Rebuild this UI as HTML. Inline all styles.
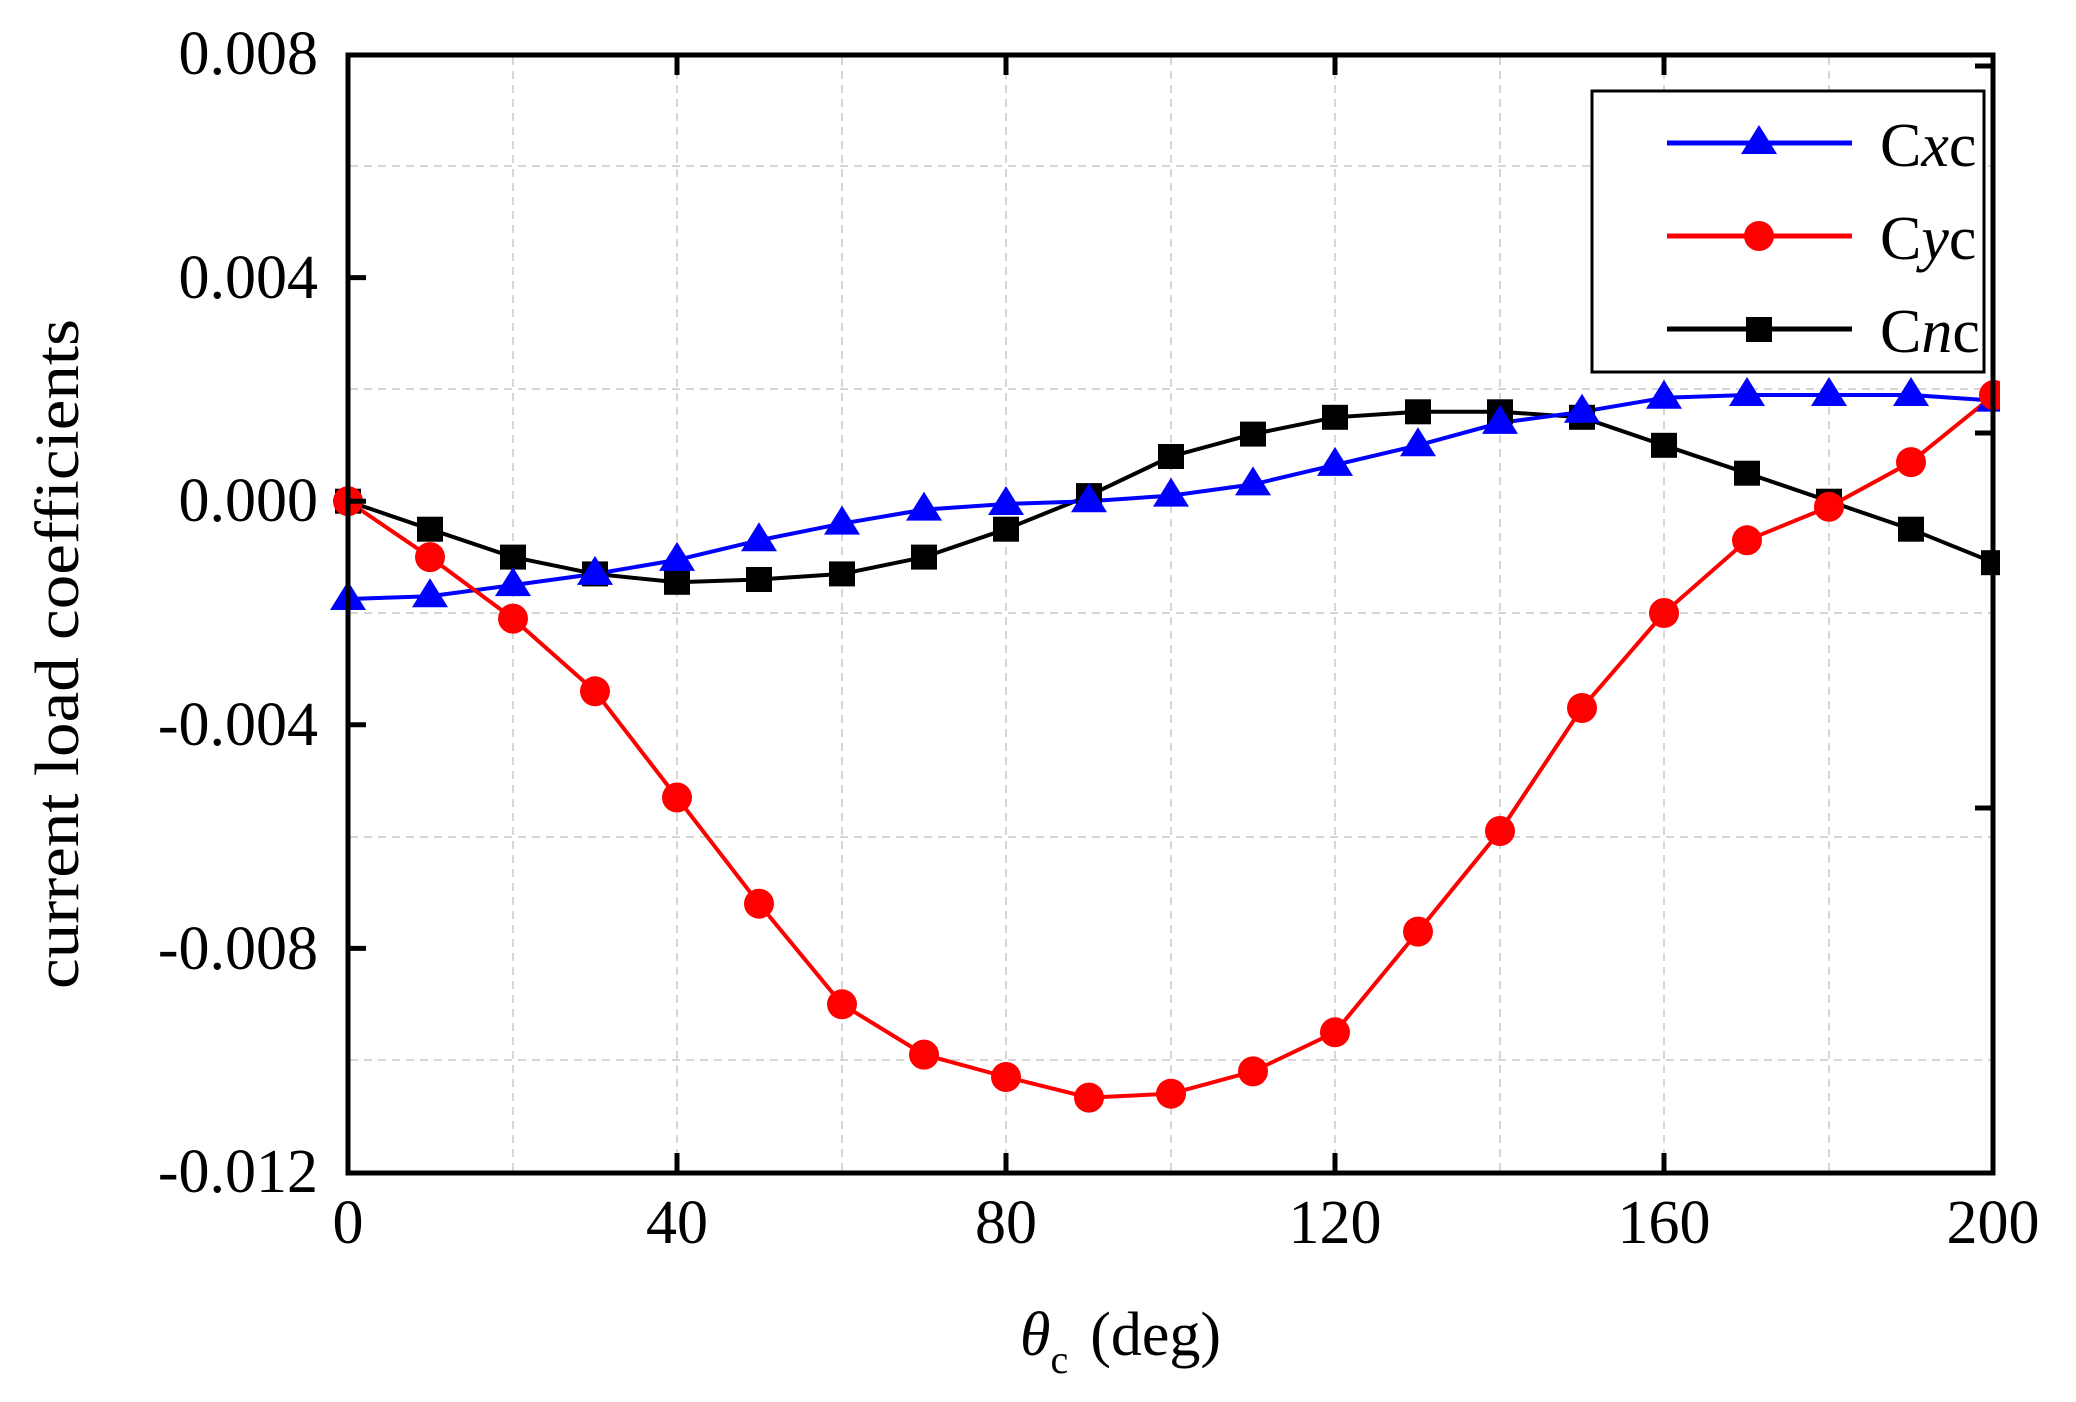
<!DOCTYPE html>
<html><head><meta charset="utf-8"><style>html,body{margin:0;padding:0;background:#fff}svg{display:block}</style></head>
<body>
<svg width="2076" height="1402" viewBox="0 0 2076 1402" xmlns="http://www.w3.org/2000/svg" xmlns:xlink="http://www.w3.org/1999/xlink" font-family="'Liberation Serif', serif">
<defs>
<polygon id="tri" points="0,-18 18,11 -18,11" fill="#00f"/>
<circle id="cir" r="15" fill="#f00"/>
<rect id="sq" x="-13" y="-12.5" width="26" height="25" fill="#000"/>
</defs>
<rect width="2076" height="1402" fill="#fff"/>
<g stroke="#c8c8c8" stroke-width="1.5" stroke-dasharray="8,6">
<line x1="513" y1="57" x2="513" y2="1171"/><line x1="677" y1="57" x2="677" y2="1171"/>
<line x1="842" y1="57" x2="842" y2="1171"/><line x1="1006" y1="57" x2="1006" y2="1171"/>
<line x1="1171" y1="57" x2="1171" y2="1171"/><line x1="1335" y1="57" x2="1335" y2="1171"/>
<line x1="1500" y1="57" x2="1500" y2="1171"/><line x1="1664" y1="57" x2="1664" y2="1171"/>
<line x1="1829" y1="57" x2="1829" y2="1171"/>
<line x1="350" y1="166" x2="1991" y2="166"/><line x1="350" y1="389" x2="1991" y2="389"/>
<line x1="350" y1="613" x2="1991" y2="613"/><line x1="350" y1="837" x2="1991" y2="837"/>
<line x1="350" y1="1060" x2="1991" y2="1060"/>
</g>
<polyline fill="none" stroke="#000" stroke-width="4" points="348,501.2 430,529.2 513,557.1 595,573.9 677,582.3 759,579.5 842,573.9 924,557.1 1006,529.2 1089,495.6 1171,456.5 1253,434.1 1335,417.3 1418,411.8 1500,411.8 1582,417.3 1664,445.3 1747,473.2 1829,501.2 1911,529.2 1994,562.7"/>
<polyline fill="none" stroke="#00f" stroke-width="4" points="348,599 430,596.2 513,585.1 595,573.9 677,559.9 759,540.3 842,523.6 924,509.6 1006,504 1089,501.2 1171,495.6 1253,484.4 1335,464.9 1418,445.3 1500,422.9 1582,411.8 1664,397.8 1747,395 1829,395 1911,395 1994,400.6"/>
<polyline fill="none" stroke="#f00" stroke-width="4" points="348,501.2 430,557.1 513,618.6 595,691.3 677,797.5 759,903.7 842,1004.3 924,1054.6 1006,1077 1089,1097.6 1171,1093.7 1253,1071.4 1335,1032.3 1418,931.6 1500,831 1582,708 1664,613 1747,540.3 1829,506.8 1911,462.1 1994,395"/>
<g>
<use xlink:href="#sq" x="348" y="501.2"/><use xlink:href="#sq" x="430" y="529.2"/><use xlink:href="#sq" x="513" y="557.1"/><use xlink:href="#sq" x="595" y="573.9"/><use xlink:href="#sq" x="677" y="582.3"/><use xlink:href="#sq" x="759" y="579.5"/><use xlink:href="#sq" x="842" y="573.9"/><use xlink:href="#sq" x="924" y="557.1"/><use xlink:href="#sq" x="1006" y="529.2"/><use xlink:href="#sq" x="1089" y="495.6"/><use xlink:href="#sq" x="1171" y="456.5"/><use xlink:href="#sq" x="1253" y="434.1"/><use xlink:href="#sq" x="1335" y="417.3"/><use xlink:href="#sq" x="1418" y="411.8"/><use xlink:href="#sq" x="1500" y="411.8"/><use xlink:href="#sq" x="1582" y="417.3"/><use xlink:href="#sq" x="1664" y="445.3"/><use xlink:href="#sq" x="1747" y="473.2"/><use xlink:href="#sq" x="1829" y="501.2"/><use xlink:href="#sq" x="1911" y="529.2"/><use xlink:href="#sq" x="1994" y="562.7"/>
<use xlink:href="#tri" x="348" y="599"/><use xlink:href="#tri" x="430" y="596.2"/><use xlink:href="#tri" x="513" y="585.1"/><use xlink:href="#tri" x="595" y="573.9"/><use xlink:href="#tri" x="677" y="559.9"/><use xlink:href="#tri" x="759" y="540.3"/><use xlink:href="#tri" x="842" y="523.6"/><use xlink:href="#tri" x="924" y="509.6"/><use xlink:href="#tri" x="1006" y="504"/><use xlink:href="#tri" x="1089" y="501.2"/><use xlink:href="#tri" x="1171" y="495.6"/><use xlink:href="#tri" x="1253" y="484.4"/><use xlink:href="#tri" x="1335" y="464.9"/><use xlink:href="#tri" x="1418" y="445.3"/><use xlink:href="#tri" x="1500" y="422.9"/><use xlink:href="#tri" x="1582" y="411.8"/><use xlink:href="#tri" x="1664" y="397.8"/><use xlink:href="#tri" x="1747" y="395"/><use xlink:href="#tri" x="1829" y="395"/><use xlink:href="#tri" x="1911" y="395"/><use xlink:href="#tri" x="1994" y="400.6"/>
<use xlink:href="#cir" x="348" y="501.2"/><use xlink:href="#cir" x="430" y="557.1"/><use xlink:href="#cir" x="513" y="618.6"/><use xlink:href="#cir" x="595" y="691.3"/><use xlink:href="#cir" x="677" y="797.5"/><use xlink:href="#cir" x="759" y="903.7"/><use xlink:href="#cir" x="842" y="1004.3"/><use xlink:href="#cir" x="924" y="1054.6"/><use xlink:href="#cir" x="1006" y="1077"/><use xlink:href="#cir" x="1089" y="1097.6"/><use xlink:href="#cir" x="1171" y="1093.7"/><use xlink:href="#cir" x="1253" y="1071.4"/><use xlink:href="#cir" x="1335" y="1032.3"/><use xlink:href="#cir" x="1418" y="931.6"/><use xlink:href="#cir" x="1500" y="831"/><use xlink:href="#cir" x="1582" y="708"/><use xlink:href="#cir" x="1664" y="613"/><use xlink:href="#cir" x="1747" y="540.3"/><use xlink:href="#cir" x="1829" y="506.8"/><use xlink:href="#cir" x="1911" y="462.1"/><use xlink:href="#cir" x="1994" y="395"/>
</g>
<rect x="2000" y="0" width="76" height="1402" fill="#fff"/>
<rect x="348" y="55" width="1645" height="1118" fill="none" stroke="#000" stroke-width="5"/>
<g stroke="#000" stroke-width="5">
<line x1="677" y1="1173" x2="677" y2="1153"/><line x1="1006" y1="1173" x2="1006" y2="1153"/><line x1="1335" y1="1173" x2="1335" y2="1153"/><line x1="1664" y1="1173" x2="1664" y2="1153"/>
<line x1="677" y1="55" x2="677" y2="75"/><line x1="1006" y1="55" x2="1006" y2="75"/><line x1="1335" y1="55" x2="1335" y2="75"/><line x1="1664" y1="55" x2="1664" y2="75"/>
<line x1="348" y1="277.6" x2="366" y2="277.6"/><line x1="348" y1="501.2" x2="366" y2="501.2"/><line x1="348" y1="724.8" x2="366" y2="724.8"/><line x1="348" y1="948.4" x2="366" y2="948.4"/>
<line x1="1993" y1="66" x2="1975" y2="66"/><line x1="1993" y1="433" x2="1975" y2="433"/><line x1="1993" y1="808" x2="1975" y2="808"/>
</g>
<g font-size="62" text-anchor="end">
<text x="318" y="74">0.008</text>
<text x="318" y="298">0.004</text>
<text x="318" y="521">0.000</text>
<text x="318" y="745">-0.004</text>
<text x="318" y="969">-0.008</text>
<text x="318" y="1192">-0.012</text>
</g>
<g font-size="62" text-anchor="middle">
<text x="348" y="1243">0</text>
<text x="677" y="1243">40</text>
<text x="1006" y="1243">80</text>
<text x="1335" y="1243">120</text>
<text x="1664" y="1243">160</text>
<text x="1993" y="1243">200</text>
</g>
<text x="0" y="0" font-size="62" transform="translate(78,654) rotate(-90)" text-anchor="middle" textLength="670" lengthAdjust="spacingAndGlyphs">current load coefficients</text>
<text x="1020" y="1355" font-size="62"><tspan font-style="italic">θ</tspan><tspan font-size="40" dy="18">c</tspan><tspan dy="-18" dx="22">(deg)</tspan></text>
<rect x="1592" y="91" width="392" height="281" fill="#fff" stroke="#000" stroke-width="3"/>
<line x1="1667" y1="143" x2="1852" y2="143" stroke="#00f" stroke-width="5"/>
<polygon points="1759,125 1777,154 1741,154" fill="#00f"/>
<line x1="1667" y1="236" x2="1852" y2="236" stroke="#f00" stroke-width="5"/>
<circle cx="1759" cy="236" r="15" fill="#f00"/>
<line x1="1667" y1="329" x2="1852" y2="329" stroke="#000" stroke-width="5"/>
<rect x="1746" y="317" width="26" height="25" fill="#000"/>
<g font-size="62">
<text x="1880" y="166">C<tspan font-style="italic">x</tspan>c</text>
<text x="1880" y="259">C<tspan font-style="italic">y</tspan>c</text>
<text x="1880" y="352">C<tspan font-style="italic">n</tspan>c</text>
</g>
</svg>
</body></html>
